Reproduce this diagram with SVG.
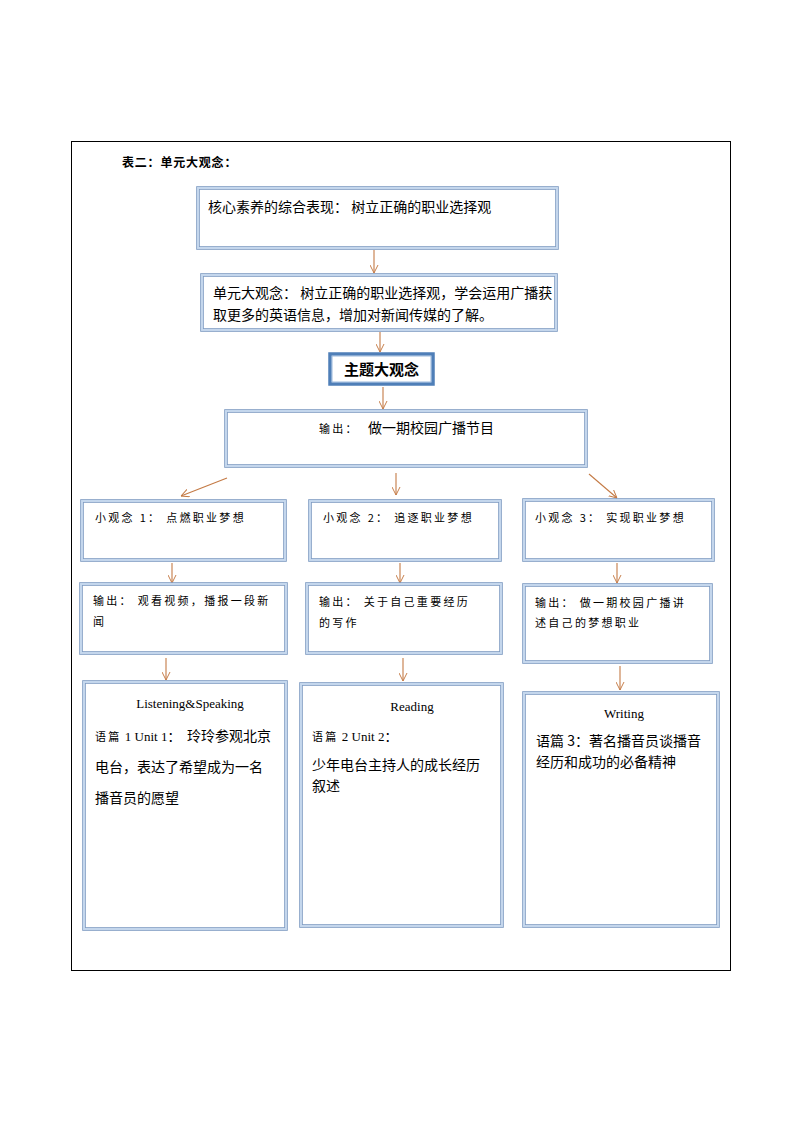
<svg xmlns="http://www.w3.org/2000/svg" width="794" height="1123" viewBox="0 0 794 1123">
<defs>
<style>
.frame{fill:none;stroke:#000;stroke-width:1}
.b1{fill:#fff;stroke:#7f9cc2;stroke-width:3.6}
.b2{fill:none;stroke:#c8daef;stroke-width:1.9}
.m1{fill:#fff;stroke:#4f7fb8;stroke-width:3.5}
.m2{fill:none;stroke:#9ab8dc;stroke-width:1}
.arr{fill:none;stroke:#c47a45;stroke-width:1.1;marker-end:url(#ah)}
.t{font-family:"Noto Sans CJK SC","Noto Sans",sans-serif;font-size:14px;fill:#000}
.s{font-family:"Noto Sans CJK SC","Noto Sans",sans-serif;font-size:11px;letter-spacing:2.3px;fill:#000}
.r{font-family:"Liberation Serif","Noto Sans CJK SC",serif;font-size:13px;fill:#000}
.ttl{font-family:"Noto Sans CJK SC",sans-serif;font-size:12px;letter-spacing:0.8px;font-weight:bold;fill:#000}
.mt{font-family:"Noto Sans CJK SC",sans-serif;font-size:15px;font-weight:bold;fill:#000}
</style>
<marker id="ah" viewBox="0 0 10 10" refX="10" refY="5" markerWidth="8" markerHeight="9" markerUnits="userSpaceOnUse" orient="auto">
<path d="M0,0 L10,5 L0,10" fill="none" stroke="#c47a45" stroke-width="1.2"/>
</marker>
</defs>
<rect x="0" y="0" width="794" height="1123" fill="#fff"/>
<rect class="frame" x="71.5" y="141.5" width="659" height="829"/>
<text class="ttl" x="122" y="167">表二：单元大观念：</text>

<g id="connectors">
<line class="arr" x1="374" y1="250" x2="374" y2="273"/>
<line class="arr" x1="380" y1="332" x2="380" y2="352"/>
<line class="arr" x1="383" y1="387" x2="383" y2="409"/>
<line class="arr" x1="227" y1="478" x2="181" y2="496"/>
<line class="arr" x1="396" y1="473" x2="396" y2="495"/>
<line class="arr" x1="589" y1="474" x2="617" y2="498"/>
<line class="arr" x1="172" y1="563" x2="172" y2="583"/>
<line class="arr" x1="400" y1="563" x2="400" y2="583"/>
<line class="arr" x1="617" y1="563" x2="617" y2="583"/>
<line class="arr" x1="166" y1="658" x2="166" y2="680"/>
<line class="arr" x1="403" y1="658" x2="403" y2="681"/>
<line class="arr" x1="620" y1="666" x2="620" y2="690"/>
</g>

<g id="core">
<rect class="b1" x="198" y="188" width="359" height="60"/><rect class="b2" x="198" y="188" width="359" height="60"/>
<text class="t" x="208" y="212">核心素养的综合表现： 树立正确的职业选择观</text>
</g>
<g id="unit">
<rect class="b1" x="202" y="275" width="354" height="55"/><rect class="b2" x="202" y="275" width="354" height="55"/>
<text class="t" x="213" y="298">单元大观念： 树立正确的职业选择观，学会运用广播获</text>
<text class="t" x="213" y="320">取更多的英语信息，增加对新闻传媒的了解。</text>
</g>
<g id="theme">
<rect class="m1" x="330" y="354" width="103" height="30"/><rect class="m2" x="332" y="356" width="99" height="26"/>
<text class="mt" x="381.5" y="375" text-anchor="middle">主题大观念</text>
</g>
<g id="output">
<rect class="b1" x="226" y="411" width="360" height="55"/><rect class="b2" x="226" y="411" width="360" height="55"/>
<text class="s" x="319" y="433" letter-spacing="1">输出：</text>
<text class="t" x="368" y="433">做一期校园广播节目</text>
</g>

<g id="idea1">
<rect class="b1" x="82" y="501" width="203" height="59"/><rect class="b2" x="82" y="501" width="203" height="59"/>
<text class="s" x="95" y="522">小观念 1：  点燃职业梦想</text>
</g>
<g id="idea2">
<rect class="b1" x="310" y="501" width="190" height="59"/><rect class="b2" x="310" y="501" width="190" height="59"/>
<text class="s" x="323" y="522">小观念 2：  追逐职业梦想</text>
</g>
<g id="idea3">
<rect class="b1" x="524" y="500" width="189" height="60"/><rect class="b2" x="524" y="500" width="189" height="60"/>
<text class="s" x="535" y="522">小观念 3：  实现职业梦想</text>
</g>

<g id="out1">
<rect class="b1" x="81" y="584" width="205" height="69"/><rect class="b2" x="81" y="584" width="205" height="69"/>
<text class="s" x="93" y="605">输出：  观看视频，播报一段新</text>
<text class="s" x="93" y="626">闻</text>
</g>
<g id="out2">
<rect class="b1" x="307" y="584" width="194" height="69"/><rect class="b2" x="307" y="584" width="194" height="69"/>
<text class="s" x="319" y="606">输出：  关于自己重要经历</text>
<text class="s" x="319" y="627">的写作</text>
</g>
<g id="out3">
<rect class="b1" x="524" y="585" width="187" height="77"/><rect class="b2" x="524" y="585" width="187" height="77"/>
<text class="s" x="535" y="607">输出：  做一期校园广播讲</text>
<text class="s" x="535" y="627">述自己的梦想职业</text>
</g>

<g id="text1">
<rect class="b1" x="84" y="682" width="202" height="247"/><rect class="b2" x="84" y="682" width="202" height="247"/>
<text class="r" x="190" y="708" text-anchor="middle">Listening&amp;Speaking</text>
<text x="95" y="741"><tspan class="s" letter-spacing="0.5">语篇</tspan><tspan class="r"> 1 Unit  1：</tspan><tspan class="t" x="187">玲玲参观北京</tspan></text>
<text class="t" x="95" y="772">电台，表达了希望成为一名</text>
<text class="t" x="95" y="803">播音员的愿望</text>
</g>
<g id="text2">
<rect class="b1" x="301" y="684" width="201" height="242"/><rect class="b2" x="301" y="684" width="201" height="242"/>
<text class="r" x="412" y="711" text-anchor="middle">Reading</text>
<text x="312" y="741"><tspan class="s" letter-spacing="0.5">语篇</tspan><tspan class="r"> 2 Unit  2：</tspan></text>
<text class="t" x="312" y="770">少年电台主持人的成长经历</text>
<text class="t" x="312" y="791">叙述</text>
</g>
<g id="text3">
<rect class="b1" x="524" y="693" width="194" height="233"/><rect class="b2" x="524" y="693" width="194" height="233"/>
<text class="r" x="624" y="718" text-anchor="middle">Writing</text>
<text class="t" x="536" y="746">语篇 3：著名播音员谈播音</text>
<text class="t" x="536" y="767">经历和成功的必备精神</text>
</g>
</svg>
